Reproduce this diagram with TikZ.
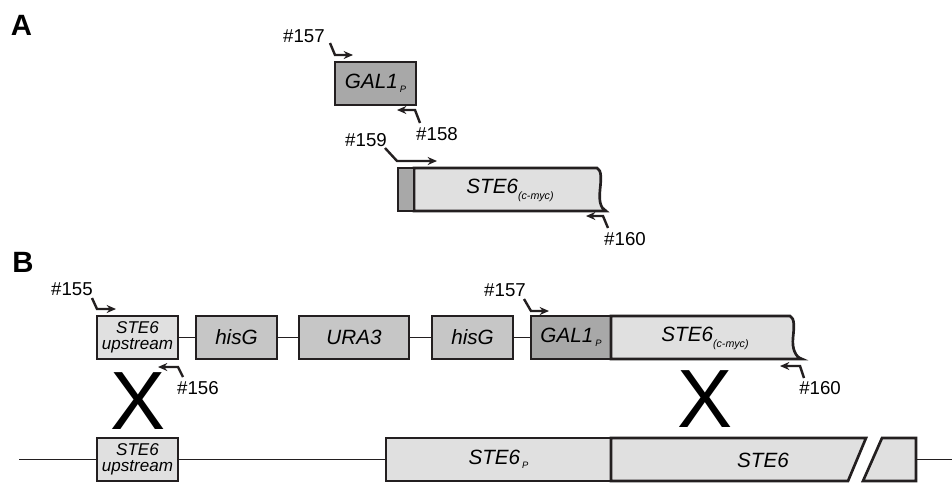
\documentclass[tikz,border=0pt]{standalone}
\usepackage{fontspec}
\setmainfont{Liberation Sans}
\usetikzlibrary{arrows.meta}
\definecolor{edge}{HTML}{231F20}
\definecolor{dkgray}{HTML}{A8A8A8}
\definecolor{mdgray}{HTML}{C6C6C6}
\definecolor{ltgray}{HTML}{E0E0E0}
\newcommand\gbox[7]{\node[gene, fill=#6, minimum width={(#4-#2)*0.75pt}, minimum height={(#5-#3)*0.75pt}] (#1) at ({(#2+#4)/2},{(#3+#5)/2}) {#7};}
\newcommand\subP{\kern1.5pt\raisebox{-3pt}{\fontsize{7}{7}\selectfont P}}
\newcommand\subMyc{\raisebox{-4.5pt}{\fontsize{8}{8}\selectfont (c-myc)}}
\begin{document}
\begin{tikzpicture}[x=0.75pt,y=-0.75pt,
  gene/.style={draw=edge, line width=2pt, inner sep=0pt, font=\fontsize{15.5}{17}\selectfont\itshape},
  genepath/.style={draw=edge, line width=2pt, line join=miter},
  genetext/.style={inner sep=0pt, font=\fontsize{15.5}{17}\selectfont\itshape},
  small/.style={inner sep=0pt, font=\fontsize{12.8}{13}\selectfont\itshape, align=center},
  link/.style={draw=edge, line width=1.4pt},
  primer/.style={draw=edge, line width=1.8pt, -{Stealth[length=7pt,width=6pt]}},
  plabel/.style={inner sep=0pt, font=\fontsize{14}{14}\selectfont},
  panel/.style={inner sep=0pt, font=\fontsize{22}{22}\selectfont\bfseries},
  cross/.style={inner sep=0pt, text height=44pt, text depth=0pt, font=\fontsize{62}{62}\selectfont}]
\useasboundingbox (0,0) rectangle (952,482);

% ---------- Panel A ----------
\node[panel] (A) at (21.5,25) {A};
\gbox{galA}{335}{62}{416}{105}{dkgray}{GAL1\subP}
\node[plabel] (l157a) at (304,36) {\#157};
\coordinate (p157a1) at (330,43); \coordinate (p157a2) at (335,55); \coordinate (p157a3) at (353,55);
\draw[primer] (p157a1) -- (p157a2) -- (p157a3);
\node[plabel] (l158) at (437,134) {\#158};
\coordinate (p158a1) at (420,123); \coordinate (p158a2) at (415,110); \coordinate (p158a3) at (397,110);
\draw[primer] (p158a1) -- (p158a2) -- (p158a3);

\node[plabel] (l159) at (366,140) {\#159};
\coordinate (p159a1) at (385,148); \coordinate (p159a2) at (397,161); \coordinate (p159a3) at (437,161);
\draw[primer] (p159a1) -- (p159a2) -- (p159a3);

\path[genepath, fill=ltgray] (414,168) -- (597,168) .. controls (602,170) and (601,180) .. (600,190)
   .. controls (599,200) and (600,208) .. (606,211) -- (414,211) -- cycle;
\gbox{galA2}{398}{168}{414}{211}{dkgray}{}
\node[genetext] (steA) at (510,190) {STE6\subMyc};
\node[plabel] (l160a) at (625,239) {\#160};
\coordinate (p160a1) at (608,228); \coordinate (p160a2) at (603,216); \coordinate (p160a3) at (586,216);
\draw[primer] (p160a1) -- (p160a2) -- (p160a3);

% ---------- Panel B ----------
\node[panel] (B) at (23,262) {B};
\gbox{upB}{97}{316}{178}{359}{ltgray}{}
\node[small] at (upB) {STE6\\[-1pt]upstream};
\gbox{hisA}{196}{316}{277}{359}{mdgray}{hisG}
\gbox{ura}{299}{316}{409}{359}{mdgray}{URA3}
\gbox{hisB}{432}{316}{513}{359}{mdgray}{hisG}
\gbox{galB}{531}{316}{611}{359}{dkgray}{GAL1\subP}
\path[genepath, fill=ltgray] (611,316) -- (790,316) .. controls (795,318) and (794,328) .. (793,338)
   .. controls (792,348) and (795,357) .. (802,359) -- (611,359) -- cycle;
\node[genetext] (steB) at (705,338) {STE6\subMyc};
\draw[link] (upB) -- (hisA);
\draw[link] (hisA) -- (ura);
\draw[link] (ura) -- (hisB);
\draw[link] (hisB) -- (galB);

\node[plabel] (l155) at (72,289) {\#155};
\coordinate (p155a) at (92,298); \coordinate (p155b) at (97,309); \coordinate (p155c) at (116,309);
\draw[primer] (p155a) -- (p155b) -- (p155c);
\node[plabel] (l156) at (198,388) {\#156};
\coordinate (p156a) at (183,377); \coordinate (p156b) at (178,367); \coordinate (p156c) at (158,367);
\draw[primer] (p156a) -- (p156b) -- (p156c);
\node[plabel] (l157b) at (505,290) {\#157};
\coordinate (p157b1) at (524,299); \coordinate (p157b2) at (531,311); \coordinate (p157b3) at (549,311);
\draw[primer] (p157b1) -- (p157b2) -- (p157b3);
\node[plabel] (l160b) at (820,388) {\#160};
\coordinate (p160b1) at (804,378); \coordinate (p160b2) at (800,366); \coordinate (p160b3) at (780,366);
\draw[primer] (p160b1) -- (p160b2) -- (p160b3);

\node[cross] (x1) at (138,400) {X};
\node[cross] (x2) at (705,398) {X};

% chromosome
\coordinate (cL) at (19,459.5);
\coordinate (cR) at (952,459.5);
\gbox{upC}{97}{438}{178}{481}{ltgray}{}
\node[small] at (upC) {STE6\\[-1pt]upstream};
\gbox{steP}{386}{438}{611}{481}{ltgray}{STE6\subP}
\path[genepath, fill=ltgray] (611,438) -- (866,438) -- (848,481) -- (611,481) -- cycle;
\node[genetext] (steC) at (763,460) {STE6};
\path[genepath, fill=ltgray] (882,438) -- (916,438) -- (916,481) -- (863,481) -- cycle;
\coordinate (tailL) at (916,459.5);
\draw[link] (cL) -- (upC);
\draw[link] (upC) -- (steP);
\draw[link] (tailL) -- (cR);
\end{tikzpicture}
\end{document}
